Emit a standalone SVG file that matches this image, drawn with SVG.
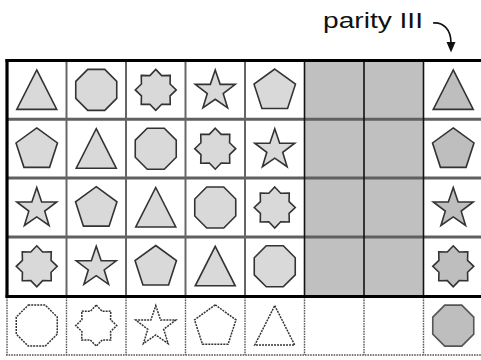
<svg xmlns="http://www.w3.org/2000/svg" xmlns:xlink="http://www.w3.org/1999/xlink" width="481" height="360" viewBox="0 0 481 360">
<style>
.d{fill:#d9d9d9;stroke:#333;stroke-width:1.6;stroke-linejoin:miter}
.p{fill:#bebebe;stroke:#333;stroke-width:1.6}
.e{fill:#fff;stroke:#333;stroke-width:1.5;stroke-dasharray:2 1}
.pe{fill:#bebebe;stroke:#555;stroke-width:1.6}
.hg{stroke:#606060;stroke-width:3}
.vg{stroke:#666;stroke-width:2}
.vb{stroke:#111;stroke-width:1.6}
.thick{stroke:#000;stroke-width:3.2}
.dot{stroke:#555;stroke-width:1.4;stroke-dasharray:1.6 1}
.lbl{font-family:"Liberation Sans",Arial,sans-serif;font-size:22px;fill:#111}
</style>
<defs>
<path id="tri" d="M0,-20 L20,19.5 L-20,19.5 Z"/>
<path id="oct" d="M-8.5,-20.5 L8.5,-20.5 L20.5,-8.5 L20.5,8.5 L8.5,20.5 L-8.5,20.5 L-20.5,8.5 L-20.5,-8.5 Z"/>
<path id="s8" d="M0,-20.5 L5.93,-14.32 L14.5,-14.5 L14.32,-5.93 L20.5,0 L14.32,5.93 L14.5,14.5 L5.93,14.32 L0,20.5 L-5.93,14.32 L-14.5,14.5 L-14.32,5.93 L-20.5,0 L-14.32,-5.93 L-14.5,-14.5 L-5.93,-14.32 Z"/>
<path id="s5" d="M0,-20 L4.9,-5.53 L19.97,-5.49 L7.95,3.64 L12.34,17.99 L0,9.4 L-12.34,17.99 L-7.95,3.64 L-19.97,-5.49 L-4.9,-5.53 Z"/>
<path id="pen" d="M0,-20.8 L20.73,-5.74 L12.81,18.64 L-12.81,18.64 L-20.73,-5.74 Z"/>
</defs>
<rect x="304.5" y="60.5" width="119" height="236" fill="#c0c0c0"/>
<g id="connectors">
<line class="hg" x1="7" y1="119.3" x2="481" y2="119.3"/>
<line class="hg" x1="7" y1="178.1" x2="481" y2="178.1"/>
<line class="hg" x1="7" y1="236.9" x2="481" y2="236.9"/>
<line class="vg" x1="66.5" y1="60.5" x2="66.5" y2="296"/>
<line class="vg" x1="126" y1="60.5" x2="126" y2="296"/>
<line class="vg" x1="185.5" y1="60.5" x2="185.5" y2="296"/>
<line class="vg" x1="245" y1="60.5" x2="245" y2="296"/>
<line class="vb" x1="304.5" y1="60.5" x2="304.5" y2="296"/>
<line class="vb" x1="364" y1="60.5" x2="364" y2="296"/>
<line class="vb" x1="423.5" y1="60.5" x2="423.5" y2="296"/>
<line class="dot" x1="7" y1="297" x2="7" y2="355"/>
<line class="dot" x1="66.5" y1="297" x2="66.5" y2="355"/>
<line class="dot" x1="126" y1="297" x2="126" y2="355"/>
<line class="dot" x1="185.5" y1="297" x2="185.5" y2="355"/>
<line class="dot" x1="245" y1="297" x2="245" y2="355"/>
<line class="dot" x1="304.5" y1="297" x2="304.5" y2="355"/>
<line class="dot" x1="364" y1="297" x2="364" y2="355"/>
<line class="dot" x1="423.5" y1="297" x2="423.5" y2="355"/>
<line class="dot" x1="6" y1="355" x2="481" y2="355"/>
<line class="thick" x1="5.5" y1="60.5" x2="481" y2="60.5"/>
<line class="thick" x1="7" y1="59" x2="7" y2="297.5"/>
<line class="thick" x1="5.5" y1="296.5" x2="481" y2="296.5"/>
<path d="M433,23 C443,22 451,29 451,43" fill="none" stroke="#111" stroke-width="1.6"/>
<path d="M446.5,42 L455.5,42 L451,52.5 Z" fill="#111"/>
</g>
<g id="label"><text class="lbl" x="323" y="27.5" textLength="100" lengthAdjust="spacingAndGlyphs">parity III</text></g>
<g id="row0">
<g id="c00"><use href="#tri" class="d" x="36.75" y="89.9"/></g>
<g id="c01"><use href="#oct" class="d" x="96.25" y="89.9"/></g>
<g id="c02"><use href="#s8" class="d" x="155.75" y="89.9"/></g>
<g id="c03"><use href="#s5" class="d" x="215.25" y="89.9"/></g>
<g id="c04"><use href="#pen" class="d" x="274.75" y="89.9"/></g>
<g id="c07"><use href="#tri" class="p" x="453.25" y="89.9"/></g>
</g>
<g id="row1">
<g id="c10"><use href="#pen" class="d" x="36.75" y="148.7"/></g>
<g id="c11"><use href="#tri" class="d" x="96.25" y="148.7"/></g>
<g id="c12"><use href="#oct" class="d" x="155.75" y="148.7"/></g>
<g id="c13"><use href="#s8" class="d" x="215.25" y="148.7"/></g>
<g id="c14"><use href="#s5" class="d" x="274.75" y="148.7"/></g>
<g id="c17"><use href="#pen" class="p" x="453.25" y="148.7"/></g>
</g>
<g id="row2">
<g id="c20"><use href="#s5" class="d" x="36.75" y="207.5"/></g>
<g id="c21"><use href="#pen" class="d" x="96.25" y="207.5"/></g>
<g id="c22"><use href="#tri" class="d" x="155.75" y="207.5"/></g>
<g id="c23"><use href="#oct" class="d" x="215.25" y="207.5"/></g>
<g id="c24"><use href="#s8" class="d" x="274.75" y="207.5"/></g>
<g id="c27"><use href="#s5" class="p" x="453.25" y="207.5"/></g>
</g>
<g id="row3">
<g id="c30"><use href="#s8" class="d" x="36.75" y="266.3"/></g>
<g id="c31"><use href="#s5" class="d" x="96.25" y="266.3"/></g>
<g id="c32"><use href="#pen" class="d" x="155.75" y="266.3"/></g>
<g id="c33"><use href="#tri" class="d" x="215.25" y="266.3"/></g>
<g id="c34"><use href="#oct" class="d" x="274.75" y="266.3"/></g>
<g id="c37"><use href="#s8" class="p" x="453.25" y="266.3"/></g>
</g>
<g id="row4">
<g id="c40"><use href="#oct" class="e" x="36.75" y="325.6"/></g>
<g id="c41"><use href="#s8" class="e" x="96.25" y="325.6"/></g>
<g id="c42"><use href="#s5" class="e" x="155.75" y="325.6"/></g>
<g id="c43"><use href="#pen" class="e" x="215.25" y="325.6"/></g>
<g id="c44"><use href="#tri" class="e" x="274.75" y="325.6"/></g>
<g id="c47"><use href="#oct" class="pe" x="453.25" y="325.6"/></g>
</g>
</svg>
